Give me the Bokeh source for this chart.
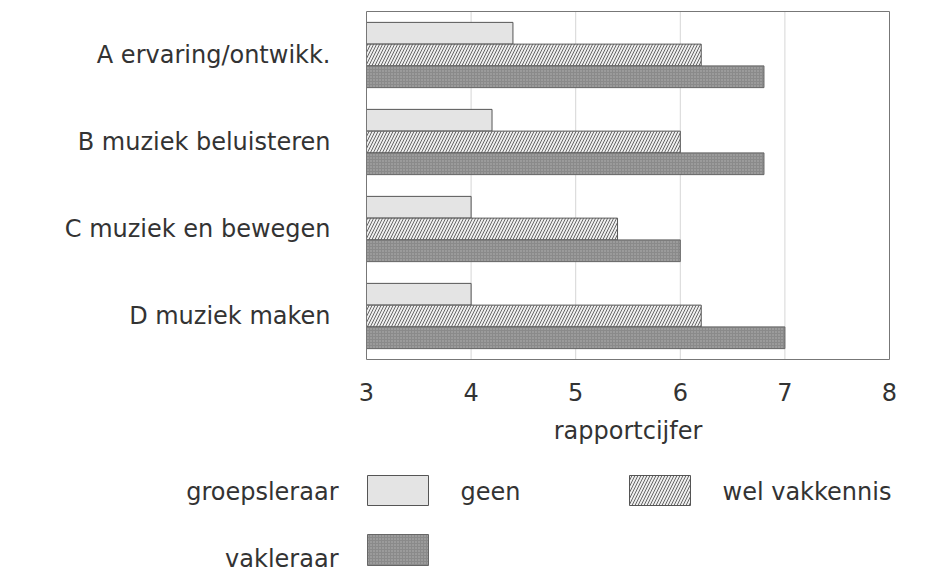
from bokeh.plotting import figure
from bokeh.models import (Range1d, FixedTicker, ColumnDataSource, LinearAxis)
from bokeh.transform import dodge
from bokeh.core.properties import value
from bokeh.embed import file_html
from bokeh.resources import INLINE

# ---- data ----
categories = ["A ervaring/ontwikk.", "B muziek beluisteren", "C muziek en bewegen", "D muziek maken"]
geen = [4.4, 4.2, 4.0, 4.0]
wel_vakkennis = [6.2, 6.0, 5.4, 6.2]
vakleraar = [6.8, 6.8, 6.0, 7.0]
x_ticks = [3, 4, 5, 6, 7, 8]
x_label = "rapportcijfer"
legend_groups = ["groepsleraar", "vakleraar"]
legend_series = ["geen", "wel vakkennis"]

# ---- layout constants (canvas pixels) ----
W, H = 942, 574
BOX_L, BOX_R, BOX_T, BOX_B = 366, 889, 11, 359

FONT = "DejaVu Sans"
TXT = "#333333"
FS = "24px"

GEEN_STYLE = dict(fill_color="#e4e4e4", line_color="#555555", line_width=1)
WEL_STYLE = dict(fill_color="#eeeeee", hatch_pattern="/", hatch_color="#666666",
                 hatch_scale=6, hatch_weight=1, line_color="#555555", line_width=1)
VAK_STYLE = dict(fill_color="#8a8a8a", hatch_pattern=".", hatch_color="#b4b4b4",
                 hatch_scale=3, line_color="#666666", line_width=1)

n = len(categories)
ypos = list(range(n))[::-1]          # A at top
src = ColumnDataSource(dict(y=ypos, cat=categories, geen=geen, wel=wel_vakkennis, vak=vakleraar))

x0, x1 = x_ticks[0], x_ticks[-1]
y0, y1 = -0.5, n - 0.5
ppx = (BOX_R - BOX_L) / (x1 - x0)
ppy = (BOX_B - BOX_T) / (y1 - y0)

p = figure(width=W, height=H,
           x_range=Range1d(x0 - BOX_L / ppx, x1 + (W - BOX_R) / ppx),
           y_range=Range1d(y0 - (H - BOX_B) / ppy, y1 + BOX_T / ppy),
           x_axis_location=None, y_axis_location=None, min_border=0,
           output_backend="svg", toolbar_location=None)
p.grid.visible = False
p.outline_line_color = None
p.extra_x_ranges = {"px": Range1d(0, W)}
p.extra_y_ranges = {"px": Range1d(H, 0)}

# grid lines inside the box
p.segment(x0=x_ticks[1:-1], x1=x_ticks[1:-1], y0=y0, y1=y1, line_color="#d6d6d6", line_width=1)

# bars
p.hbar(y=dodge("y", 0.25), left=x0, right="geen", height=0.25, source=src, **GEEN_STYLE)
p.hbar(y=dodge("y", 0.0), left=x0, right="wel", height=0.25, source=src, **WEL_STYLE)
p.hbar(y=dodge("y", -0.25), left=x0, right="vak", height=0.25, source=src, **VAK_STYLE)

# plot box
p.quad(left=[x0], right=[x1], bottom=[y0], top=[y1], fill_color=None,
       line_color="#777777", line_width=1)

# axes pinned to the box edges
xaxis = LinearAxis(fixed_location=y0, bounds=(x0, x1), ticker=FixedTicker(ticks=x_ticks),
                   axis_label=x_label)
yaxis = LinearAxis(fixed_location=x0, bounds=(y0, y1), ticker=FixedTicker(ticks=ypos),
                   major_label_overrides={yy: c for yy, c in zip(ypos, categories)})
for ax in (xaxis, yaxis):
    ax.major_tick_line_color = None
    ax.minor_tick_line_color = None
    ax.axis_line_color = None
    ax.major_label_text_font = FONT
    ax.major_label_text_font_size = FS
    ax.major_label_text_color = TXT
xaxis.major_label_standoff = 17
xaxis.axis_label_standoff = 13
xaxis.axis_label_text_font = FONT
xaxis.axis_label_text_font_size = FS
xaxis.axis_label_text_font_style = "normal"
xaxis.axis_label_text_color = TXT
yaxis.major_label_standoff = 30
p.add_layout(xaxis, "below")
p.add_layout(yaxis, "left")

# ---- legend (canvas pixel coordinates) ----
px = dict(x_range_name="px", y_range_name="px")
txt = dict(text_font=value(FONT), text_font_size=value(FS), text_color=TXT,
           text_baseline="middle")
p.text(x=[338, 338], y=[491, 558], text=legend_groups, text_align="right", **txt, **px)
p.quad(left=[367], right=[428], top=[475], bottom=[505], **GEEN_STYLE, **px)
p.text(x=[460], y=[491], text=[legend_series[0]], text_align="left", **txt, **px)
p.quad(left=[629], right=[690], top=[475], bottom=[505], **WEL_STYLE, **px)
p.text(x=[722], y=[491], text=[legend_series[1]], text_align="left", **txt, **px)
p.quad(left=[367], right=[428], top=[534], bottom=[565], **VAK_STYLE, **px)

open("out.html", "w").write(file_html(p, INLINE))
